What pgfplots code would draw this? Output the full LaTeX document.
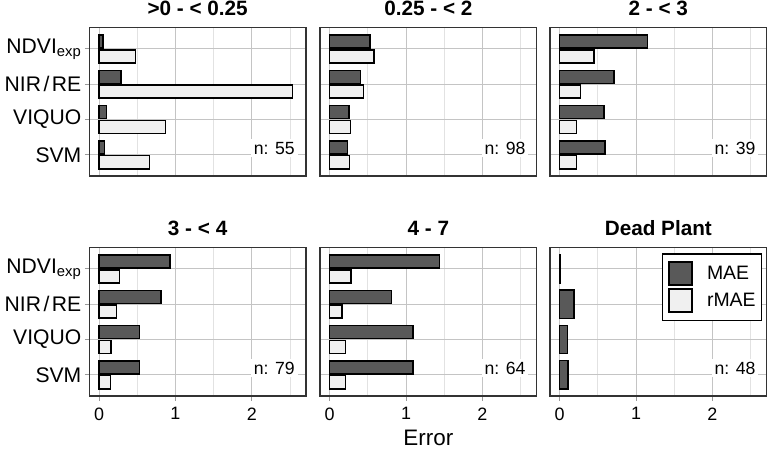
\documentclass[border=0pt]{standalone}
\usepackage{fontspec}
\setmainfont{Liberation Sans}
\usepackage{pgfplots}
\pgfplotsset{compat=1.18}
\definecolor{maec}{HTML}{595959}
\definecolor{rmaec}{HTML}{F0F0F0}
\definecolor{gridmaj}{HTML}{C4C4C4}
\definecolor{gridmin}{HTML}{E2E2E2}
\definecolor{framec}{HTML}{333333}
\definecolor{tickc}{HTML}{9A9A9A}
\tikzset{nlab/.style={fill=white, anchor=east, inner sep=3bp, font=\fontsize{17.7}{19}\selectfont}}
\pgfplotsset{
  every axis title shift=0pt,
  panel/.style={
    scale only axis, width=216.7bp, height=148.3bp,
    xmin=-0.127, xmax=2.71, ymin=0.4, ymax=4.6, y dir=reverse,
    xtick={0,1,2}, minor xtick={0.5,1.5,2.5}, ytick={1,2,3,4},
    xmajorgrids, ymajorgrids, xminorgrids,
    major grid style={draw=gridmaj, line width=1bp},
    minor grid style={draw=gridmin, line width=0.8bp},
    axis line style={draw=framec, line width=1.3bp},
    xticklabels={}, yticklabels={},
    tick align=outside, major tick length=4.5bp, minor tick length=0pt,
    xtick style={draw=none}, ytick style={draw=none},
    /pgf/number format/assume math mode=true,
    title style={at={(0.5,1)}, anchor=base, yshift=12.3bp, font=\bfseries\fontsize{20.8}{22}\selectfont},
    xticklabel style={font=\fontsize{18}{20}\selectfont, yshift=-3.5bp},
    yticklabel style={font=\fontsize{21.2}{23}\selectfont},
    clip=false,
  },
  leftcol/.style={ytick pos=left, ytick style={draw=tickc, line width=1bp},
    yticklabels={NDVI\textsubscript{exp}, NIR\kern2.5bp/\kern2.5bp RE, VIQUO, SVM}},
  bottomrow/.style={xtick pos=lower, xtick style={draw=tickc, line width=1bp},
    xticklabels={0,1,2}},
  mae/.style={xbar, bar width=0.37, bar shift=-0.21, fill=maec, draw=black, line width=1.5bp},
  rmae/.style={xbar, bar width=0.37, bar shift=0.21, fill=rmaec, draw=black, line width=1.5bp},
}
\begin{document}
\begin{tikzpicture}
\path[use as bounding box] (0,0) rectangle (767bp,-451bp);
% Panel 1
\begin{axis}[panel, leftcol, at={(89.3bp,-27.7bp)}, anchor=north west, title={>0 - < 0.25}]
\addplot[mae] coordinates {(0.05,1) (0.29,2) (0.10,3) (0.07,4)};
\addplot[rmae] coordinates {(0.48,1) (2.53,2) (0.87,3) (0.66,4)};
\node[nlab] at (axis description cs:0.963,0.1875) {n: 55};
\end{axis}
% Panel 2
\begin{axis}[panel, at={(320bp,-27.7bp)}, anchor=north west, title={0.25 - < 2}]
\addplot[mae] coordinates {(0.53,1) (0.40,2) (0.25,3) (0.23,4)};
\addplot[rmae] coordinates {(0.58,1) (0.44,2) (0.27,3) (0.26,4)};
\node[nlab] at (axis description cs:0.963,0.1875) {n: 98};
\end{axis}
% Panel 3
\begin{axis}[panel, at={(550bp,-27.7bp)}, anchor=north west, title={2 - < 3}]
\addplot[mae] coordinates {(1.15,1) (0.71,2) (0.58,3) (0.59,4)};
\addplot[rmae] coordinates {(0.45,1) (0.27,2) (0.22,3) (0.22,4)};
\node[nlab] at (axis description cs:0.963,0.1875) {n: 39};
\end{axis}
% Panel 4
\begin{axis}[panel, leftcol, bottomrow, at={(89.3bp,-247.7bp)}, anchor=north west, title={3 - < 4}]
\addplot[mae] coordinates {(0.93,1) (0.81,2) (0.53,3) (0.53,4)};
\addplot[rmae] coordinates {(0.27,1) (0.23,2) (0.16,3) (0.15,4)};
\node[nlab] at (axis description cs:0.963,0.1875) {n: 79};
\end{axis}
% Panel 5
\begin{axis}[panel, bottomrow, at={(320bp,-247.7bp)}, anchor=north west, title={4 - 7},
  xlabel={Error}, xlabel style={at={(0.5,0)}, anchor=base, inner sep=0pt, yshift=-49bp, font=\fontsize{22.5}{24}\selectfont}]
\addplot[mae] coordinates {(1.44,1) (0.81,2) (1.09,3) (1.09,4)};
\addplot[rmae] coordinates {(0.28,1) (0.16,2) (0.21,3) (0.21,4)};
\node[nlab] at (axis description cs:0.963,0.1875) {n: 64};
\end{axis}
% Panel 6
\begin{axis}[panel, bottomrow, at={(550bp,-247.7bp)}, anchor=north west, title={Dead Plant},
  legend cell align=left,
  legend style={at={(0.98,0.964)}, anchor=north east, draw=black, line width=1.5bp,
    inner xsep=6bp, inner ysep=7.5bp, row sep=2.5bp, nodes={inner sep=0pt},
    font=\fontsize{19.5}{21}\selectfont}]
\addplot[xbar, bar width=0.8, bar shift=0, fill=maec, draw=black, line width=1.5bp, forget plot]
  coordinates {(0.01,1) (0.19,2) (0.10,3) (0.11,4)};
\addlegendimage{legend image code/.code={\path[draw=none, fill=none] (0bp,0bp) -- (38bp,0bp);\draw[fill=maec, draw=black, line width=1.5bp] (0bp,-11.5bp) rectangle (23bp,11.5bp);}}
\addlegendentry{MAE}
\addlegendimage{legend image code/.code={\path[draw=none, fill=none] (0bp,0bp) -- (38bp,0bp);\draw[fill=rmaec, draw=black, line width=1.5bp] (0bp,-11.5bp) rectangle (23bp,11.5bp);}}
\addlegendentry{rMAE}
\node[nlab] at (axis description cs:0.963,0.1875) {n: 48};
\end{axis}
\end{tikzpicture}
\end{document}
